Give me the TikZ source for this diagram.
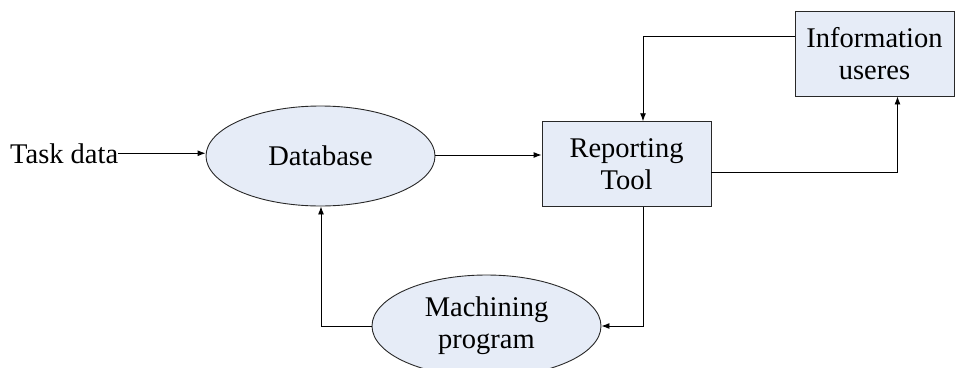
\documentclass[tikz,border=0pt]{standalone}
\usepackage{fontspec}
\setmainfont{Liberation Serif}
\usetikzlibrary{shapes.geometric,arrows.meta}
\definecolor{boxfill}{RGB}{230,236,247}
\definecolor{edge}{RGB}{40,40,40}
\tikzset{
  arr/.style={-{Latex[length=8pt,width=6pt]}, line width=0.9pt, black},
  con/.style={line width=0.9pt, black},
  oval/.style={ellipse, draw=edge, line width=0.9pt, fill=boxfill, inner sep=0pt, align=center,
    font=\fontsize{28.5}{32}\selectfont},
  box/.style={rectangle, draw=edge, line width=0.9pt, fill=boxfill, inner sep=0pt, align=center,
    font=\fontsize{28.5}{32}\selectfont},
  lbl/.style={inner sep=0pt, font=\fontsize{28.5}{32}\selectfont}
}
\begin{document}
\begin{tikzpicture}[x=1pt,y=-1pt]
\useasboundingbox (0,0) rectangle (956,367);
\node[lbl, anchor=base west] (task) at (10,163) {Task data};
\node[oval, minimum width=229pt, minimum height=100pt] (db) at (320.5,156) {Database};
\node[box, minimum width=169pt, minimum height=85pt] (rep) at (626.5,164.2) {Reporting\\Tool};
\node[box, minimum width=159pt, minimum height=85pt] (info) at (874.5,53.5) {Information\\useres};
\node[oval, minimum width=229pt, minimum height=102pt] (mp) at (486.5,326) {Machining\\program};
\coordinate (c1) at (643,36);
\coordinate (c2) at (897.5,172);
\coordinate (c3) at (643,326);
\coordinate (c4) at (321,326);
\draw[arr] (task.east) -- (db.west |- task.east);
\draw[arr] (db.east |- 0,155) -- (rep.west |- 0,155);
\draw[arr] (info.west |- c1) -- (c1) -- (c1 |- rep.north);
\draw[arr] (rep.east |- c2) -- (c2) -- (c2 |- info.south);
\draw[arr] (c3 |- rep.south) -- (c3) -- (mp.east);
\draw[arr] (mp.west) -- (c4) -- (c4 |- db.south);
\end{tikzpicture}
\end{document}
